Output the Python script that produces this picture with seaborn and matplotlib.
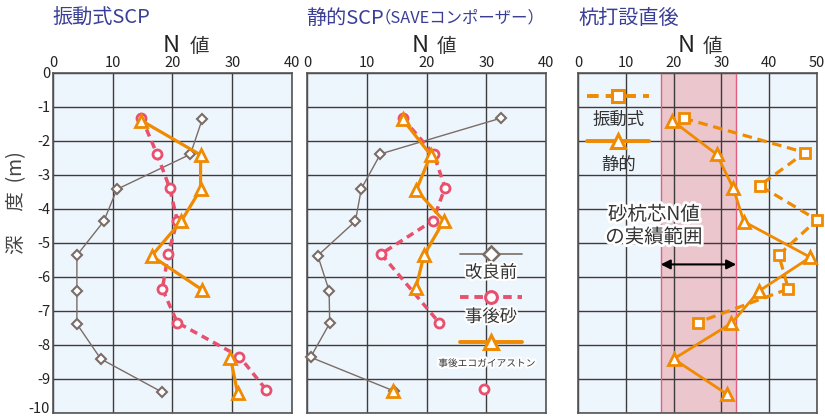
import numpy as np
import pandas as pd
import matplotlib
matplotlib.use("Agg")
import matplotlib.pyplot as plt
import matplotlib.patheffects as pe
import matplotlib.transforms as mtransforms
import seaborn as sns

# ---------------- data ----------------
# Panel 1: 振動式SCP
v_pre_depth = [-1.35, -2.39, -3.42, -4.36, -5.36, -6.40, -7.38, -8.41, -9.39]
v_pre_n = [25.0, 23.0, 10.7, 8.5, 4.0, 4.0, 4.0, 8.0, 18.3]
v_sand_depth = [-1.31, -2.38, -3.37, -4.34, -5.31, -6.35, -7.34, -8.34, -9.32]
v_sand_n = [14.8, 17.4, 19.5, 20.8, 19.3, 18.3, 20.8, 31.2, 35.7]
v_eco_depth = [-1.40, -2.41, -3.42, -4.35, -5.38, -6.38, -8.37, -9.42]
v_eco_n = [14.8, 24.7, 24.7, 21.5, 16.5, 25.0, 29.7, 30.9]
v_eco_seg = [0, 0, 0, 0, 0, 0, 1, 1]

# Panel 2: 静的SCP（SAVEコンポーザー）
s_pre_depth = [-1.33, -2.38, -3.40, -4.36, -5.37, -6.40, -7.36, -8.36, -9.35]
s_pre_n = [32.4, 12.3, 9.1, 8.1, 1.8, 3.7, 3.8, 0.6, 14.5]
s_sand_depth = [-1.33, -2.38, -3.37, -4.34, -5.32, -7.34, -9.30]
s_sand_n = [16.0, 21.2, 23.1, 21.1, 12.4, 22.1, 29.7]
s_sand_seg = [0, 0, 0, 0, 0, 0, 1]
s_eco_depth = [-1.36, -2.41, -3.44, -4.35, -5.35, -6.33, -9.34]
s_eco_n = [16.0, 20.7, 18.3, 22.9, 19.6, 18.2, 14.4]
s_eco_seg = [0, 0, 0, 0, 0, 0, 1]

# Panel 3: 杭打設直後
p_vib_depth = [-1.33, -2.34, -3.31, -4.32, -5.35, -6.35, -7.34]
p_vib_n = [22.1, 47.5, 38.0, 50.0, 42.0, 44.0, 25.0]
p_sta_depth = [-1.40, -2.39, -3.39, -4.37, -5.42, -6.41, -7.36, -8.41, -9.44]
p_sta_n = [19.7, 29.0, 32.5, 34.7, 48.6, 37.9, 32.1, 20.0, 31.1]
band_range = [17.3, 33.1]
arrow_depth = -5.63

titles = ["振動式SCP", "静的SCP", "（SAVEコンポーザー）", "杭打設直後"]
depth_ticks = list(range(0, -11, -1))
depth_labels = [str(t) for t in depth_ticks]

# ---------------- style ----------------
sns.set_theme(style="white")
plt.rcParams['font.family'] = ['Noto Sans CJK JP', 'DejaVu Sans']
plt.rcParams['axes.unicode_minus'] = False

ORANGE = "#F08A00"
PINK = "#E8506E"
GRAY = "#7A6C66"
NAVY = "#3A3F95"
BG = "#EEF6FD"
GRID = "#3C3C3C"
TXT = "#333333"

W, H = 825, 418
fig = plt.figure(figsize=(W / 100, H / 100), dpi=100)


def add_ax(left, right, top=73, bottom=413):
    return fig.add_axes([left / W, 1 - bottom / H, (right - left) / W, (bottom - top) / H])


ax1 = add_ax(53, 292)
ax2 = add_ax(307, 546)
ax3 = add_ax(578, 817)


def draw(ax, n, d, seg, color, marker, ms, lw, ls, mew, z):
    if seg is None:
        seg = [0] * len(n)
    df = pd.DataFrame({"N": n, "depth": d, "seg": seg})
    sns.lineplot(data=df, x="N", y="depth", units="seg", estimator=None, sort=False,
                 ax=ax, color=color, lw=lw, linestyle=ls, marker=marker, markersize=ms,
                 markerfacecolor="white", markeredgecolor=color, markeredgewidth=mew,
                 zorder=z, clip_on=False, legend=False)


def style(ax, xmax, show_y):
    ax.set_facecolor(BG)
    ax.set_xlim(0, xmax)
    ax.set_ylim(-10, 0)
    ax.xaxis.tick_top()
    ax.set_xticks(np.arange(0, xmax + 1, 10))
    ax.set_yticks(depth_ticks)
    if show_y:
        ax.set_yticklabels(depth_labels)
    else:
        ax.set_yticklabels([])
    ax.grid(True, color=GRID, lw=1.0)
    ax.set_axisbelow(True)
    ax.tick_params(length=0, labelsize=10.5, colors="#222222", pad=2)
    for s in ax.spines.values():
        s.set_color("#555555")
        s.set_linewidth(1.2)
    ax.set_xlabel("")
    ax.set_ylabel("")


DASH_P = (0, (2.2, 1.5))
DASH_O = (0, (3.0, 1.8))

# panel 1
draw(ax1, v_pre_n, v_pre_depth, None, GRAY, "D", 5.5, 1.0, "-", 1.5, 3)
draw(ax1, v_sand_n, v_sand_depth, None, PINK, "o", 6.5, 2.5, DASH_P, 2.0, 4)
draw(ax1, v_eco_n, v_eco_depth, v_eco_seg, ORANGE, "^", 8, 2.3, "-", 2.0, 5)

# panel 2
draw(ax2, s_pre_n, s_pre_depth, None, GRAY, "D", 5.5, 1.0, "-", 1.5, 3)
draw(ax2, s_sand_n, s_sand_depth, s_sand_seg, PINK, "o", 6.5, 2.5, DASH_P, 2.0, 4)
draw(ax2, s_eco_n, s_eco_depth, s_eco_seg, ORANGE, "^", 8, 2.3, "-", 2.0, 5)

# panel 3
ax3.axvspan(band_range[0], band_range[1], color="#EBC6CD", zorder=0.2, lw=0)
for b in band_range:
    ax3.axvline(b, color="#E0607E", lw=1.0, zorder=0.6)
draw(ax3, p_vib_n, p_vib_depth, None, ORANGE, "s", 6.5, 2.3, DASH_O, 2.0, 4)
draw(ax3, p_sta_n, p_sta_depth, None, ORANGE, "^", 8, 2.0, "-", 2.0, 5)
ax3.annotate("", xy=(band_range[0], arrow_depth), xytext=(band_range[1], arrow_depth),
             arrowprops=dict(arrowstyle="<|-|>", color="black", lw=1.5,
                             shrinkA=0, shrinkB=0, mutation_scale=14), zorder=6)

style(ax1, 40, True)
style(ax2, 40, False)
style(ax3, 50, False)

# nudge the bottom "-10" label up so it stays inside the figure
last = ax1.get_yticklabels()[-1]
last.set_transform(last.get_transform() +
                   mtransforms.ScaledTranslation(0, 4 / 72, fig.dpi_scale_trans))

halo = [pe.withStroke(linewidth=3, foreground="white")]


# panel 2 legend (drawn inside axes)
def leg_line(ax, x0, x1, y, color, marker, ms, lw, ls, mew):
    ax.plot([x0, x1], [y, y], transform=ax.transAxes, color=color, lw=lw, ls=ls,
            clip_on=False, zorder=7)
    ax.plot([(x0 + x1) / 2], [y], transform=ax.transAxes, color=color, marker=marker,
            ms=ms, mfc="white", mec=color, mew=mew, clip_on=False, zorder=8)


leg_line(ax2, 0.64, 0.90, 0.467, GRAY, "D", 8, 1.2, "-", 1.8)
ax2.text(0.77, 0.413, "改良前", transform=ax2.transAxes, ha="center", va="center",
         fontsize=12.5, color=TXT, path_effects=halo, zorder=8)
leg_line(ax2, 0.64, 0.90, 0.34, PINK, "o", 8.5, 2.8, (0, (2.2, 1.5)), 2.2)
ax2.text(0.77, 0.283, "事後砂", transform=ax2.transAxes, ha="center", va="center",
         fontsize=12.5, color=TXT, path_effects=halo, zorder=8)
leg_line(ax2, 0.64, 0.90, 0.21, ORANGE, "^", 10, 2.8, "-", 2.2)
ax2.text(0.753, 0.146, "事後エコガイアストン", transform=ax2.transAxes, ha="center",
         va="center", fontsize=7, color=TXT, path_effects=halo, zorder=8)

# panel 3 legend
leg_line(ax3, 0.036, 0.298, 0.933, ORANGE, "s", 8, 2.8, (0, (3.0, 1.8)), 2.2)
ax3.text(0.169, 0.862, "振動式", transform=ax3.transAxes, ha="center", va="center",
         fontsize=12.5, color=TXT, zorder=8)
leg_line(ax3, 0.036, 0.298, 0.80, ORANGE, "^", 10, 2.8, "-", 2.2)
ax3.text(0.172, 0.73, "静的", transform=ax3.transAxes, ha="center", va="center",
         fontsize=12.5, color=TXT, zorder=8)
ax3.text((654 - 578) / 239, (413 - 226) / 340, "砂杭芯N値\nの実績範囲", transform=ax3.transAxes,
         ha="center", va="center", fontsize=14, color=TXT, linespacing=1.1,
         path_effects=[pe.withStroke(linewidth=4, foreground="white")], zorder=8)

# titles
fig.text(52 / W, 1 - 18 / H, titles[0], fontsize=14.5, color=NAVY, ha="left", va="center")
fig.text(306 / W, 1 - 18 / H, titles[1], fontsize=14.5, color=NAVY, ha="left", va="center")
fig.text(375 / W, 1 - 18 / H, titles[2], fontsize=11.8, color=NAVY, ha="left", va="center")
fig.text(578 / W, 1 - 18 / H, titles[3], fontsize=14.5, color=NAVY, ha="left", va="center")

# N 値 labels
for nx, vx in [(171, 199), (420, 446), (686, 712)]:
    fig.text(nx / W, 1 - 45 / H, "N", fontsize=17, color="#222222", ha="center", va="center")
    fig.text(vx / W, 1 - 46 / H, "値", fontsize=14, color="#333333", ha="center", va="center")

# y label
fig.text(17 / W, 1 - 203 / H, "深　 度  (m)", rotation=90, fontsize=14, color="#444444",
         ha="center", va="center")

fig.savefig("out.png", dpi=100)
